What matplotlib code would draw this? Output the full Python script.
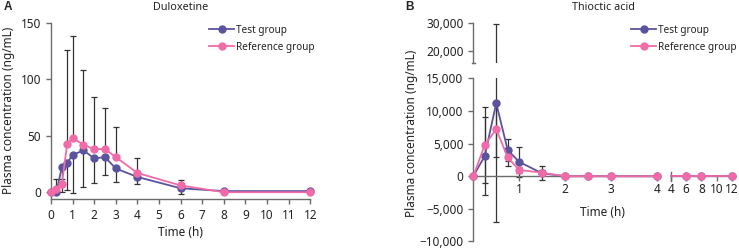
import matplotlib
matplotlib.use("Agg")
import matplotlib.pyplot as plt

plt.rcParams['font.family'] = ['Noto Sans', 'DejaVu Sans']
plt.rcParams['font.size'] = 8

# sampling times (h)
times = [0, 0.25, 0.5, 0.75, 1, 1.5, 2, 2.5, 3, 4, 6, 8, 12]

# Duloxetine (ng/mL)
dul_test = [0, 0, 22, 26, 33, 37, 30, 31, 21, 13.5, 3.5, 1, 1]
dul_test_low = [0, 0, 22, 24, 34, 32, 22, 16, 12, 6.5, 5.5, 0.5, 0.5]
dul_ref = [0, 3, 7, 43, 48, 42, 38, 38.3, 31, 17, 6, 0, 0]
dul_ref_up = [0, 9, 5, 83, 90, 66, 46, 36, 26.5, 13.5, 5, 0, 0]

# Thioctic acid (ng/mL)
thi_test = [0, 3100, 11200, 4000, 2200, 450, 0, 0, 0, 0, 0, 0, 0]
thi_test_sd = [0, 6000, 18200, 1700, 2300, 1100, 0, 0, 0, 0, 0, 0, 0]
thi_ref = [0, 4800, 7200, 2900, 950, 550, 0, 0, 0, 0, 0, 0, 0]
thi_ref_sd = [0, 5800, 4200, 1400, 500, 400, 0, 0, 0, 0, 0, 0, 0]

c_test = '#5a539e'
c_ref = '#f06ba8'
c_err = '#333333'
c_axis = '#6b6b6b'
c_text = '#222222'

W, H = 739, 249
def box(l, t, r, b):
    return [l / W, 1 - b / H, (r - l) / W, (b - t) / H]

fig = plt.figure(figsize=(W / 100, H / 100), dpi=100)

def style(ax, spines=('left', 'bottom')):
    for s in ['left', 'right', 'top', 'bottom']:
        ax.spines[s].set_visible(s in spines)
        ax.spines[s].set_color(c_axis)
        ax.spines[s].set_linewidth(1.0)
    ax.tick_params(colors=c_axis, labelcolor=c_text, length=3.5, width=1.0, labelsize=8.5)
    ax.patch.set_alpha(0)

line_kw = dict(marker='o', markersize=5, linewidth=1.3, clip_on=False)
err_kw = dict(fmt='none', ecolor=c_err, elinewidth=0.9, capsize=2, capthick=0.9)
leg_kw = dict(frameon=False, handlelength=2.5, handletextpad=0.2, labelspacing=0.6, borderpad=0,
              fontsize=7.2, labelcolor=c_text, loc='upper left')

# ---- panel A
axA = fig.add_axes(box(51, 22.7, 310.3, 199))
style(axA)
axA.errorbar(times, dul_ref, yerr=[[0] * len(times), dul_ref_up], zorder=1, **err_kw)
axA.errorbar(times, dul_test, yerr=[dul_test_low, [0] * len(times)], zorder=1, **err_kw)
axA.plot(times, dul_test, color=c_test, label='Test group', zorder=3, **line_kw)
axA.plot(times, dul_ref, color=c_ref, label='Reference group', zorder=4, **line_kw)
axA.set_xlim(0, 12)
axA.set_ylim(-6, 150)
axA.set_xticks(range(0, 13))
axA.set_yticks([0, 50, 100, 150])
axA.set_xlabel('Time (h)', color=c_text, fontsize=8.5, labelpad=3)
axA.set_ylabel('Plasma concentration (ng/mL)', color=c_text, fontsize=8.5, labelpad=4)
axA.set_title('Duloxetine', color=c_text, fontsize=7.8, pad=9)
axA.legend(bbox_to_anchor=(204 / W, 1 - 20 / H), bbox_transform=fig.transFigure, **leg_kw)
fig.text(4 / W, 1 - 7 / H, 'A', fontsize=8.5, fontweight='bold', va='center', color=c_text,
         family='Liberation Sans')

# ---- panel B (broken axes)
ax_up = fig.add_axes(box(473.3, 22.7, 656.7, 63.3))
ax_lo = fig.add_axes(box(473.3, 78.3, 656.7, 241.5))
ax_r = fig.add_axes(box(671, 78.3, 731.7, 241.5))

first = [i for i, t in enumerate(times) if t <= 4]
second = [i for i, t in enumerate(times) if t >= 4]
t1 = [times[i] for i in first]

for ax in (ax_up, ax_lo):
    ax.errorbar(t1, [thi_test[i] for i in first], yerr=[thi_test_sd[i] for i in first], zorder=1, **err_kw)
    ax.errorbar(t1, [thi_ref[i] for i in first], yerr=[thi_ref_sd[i] for i in first], zorder=1, **err_kw)
    ax.set_xlim(0, 4)

ax_lo.plot(t1, [thi_test[i] for i in first], color=c_test, zorder=3, **line_kw)
ax_lo.plot(t1, [thi_ref[i] for i in first], color=c_ref, zorder=4, **line_kw)

style(ax_up, spines=('left',))
ax_up.set_ylim(15500, 30000)
ax_up.set_xticks([])
ax_up.set_yticks([20000, 30000])
ax_up.set_yticklabels(['20,000', '30,000'])
ax_up.plot([-0.035, 0.035], [15500, 15500], color=c_axis, lw=1.0, clip_on=False)

style(ax_lo)
ax_lo.spines['bottom'].set_position(('data', 0))
ax_lo.set_ylim(-10000, 15000)
ax_lo.set_yticks([-10000, -5000, 0, 5000, 10000, 15000])
ax_lo.set_yticklabels(['\u221210,000', '\u22125,000', '0', '5,000', '10,000', '15,000'])
ax_lo.set_xticks([1, 2, 3, 4])
ax_lo.tick_params(axis='x', pad=1.5)

style(ax_r, spines=('bottom',))
ax_r.spines['bottom'].set_position(('data', 0))
ax_r.set_ylim(-10000, 15000)
ax_r.set_xlim(4, 12)
ax_r.set_yticks([])
ax_r.set_xticks([4, 6, 8, 10, 12])
ax_r.tick_params(axis='x', pad=1.5)
marks = [k for k, i in enumerate(second) if times[i] > 4]
ax_r.plot([times[i] for i in second], [thi_test[i] for i in second], color=c_test,
          markevery=marks, zorder=3, **line_kw)
ax_r.plot([times[i] for i in second], [thi_ref[i] for i in second], color=c_ref,
          markevery=marks, zorder=4, **line_kw)
ax_r.plot([4, 4], [-700, 700], color=c_axis, lw=1.0, clip_on=False)

ax_up.plot([], [], color=c_test, label='Test group', **line_kw)
ax_up.plot([], [], color=c_ref, label='Reference group', **line_kw)
ax_up.legend(bbox_to_anchor=(626 / W, 1 - 20 / H), bbox_transform=fig.transFigure, **leg_kw)

fig.text(602 / W, 1 - 212 / H, 'Time (h)', ha='center', va='center', fontsize=8.5, color=c_text)
fig.text(412 / W, 1 - 133 / H, 'Plasma concentration (ng/mL)', rotation=90, ha='center', va='center',
         fontsize=8.5, color=c_text)
fig.text(603 / W, 1 - 7 / H, 'Thioctic acid', ha='center', va='center', fontsize=7.8, color=c_text)
fig.text(405 / W, 1 - 7 / H, 'B', fontsize=8.5, fontweight='bold', va='center', color=c_text,
         family='Liberation Sans')

fig.savefig('out.png', dpi=100)
